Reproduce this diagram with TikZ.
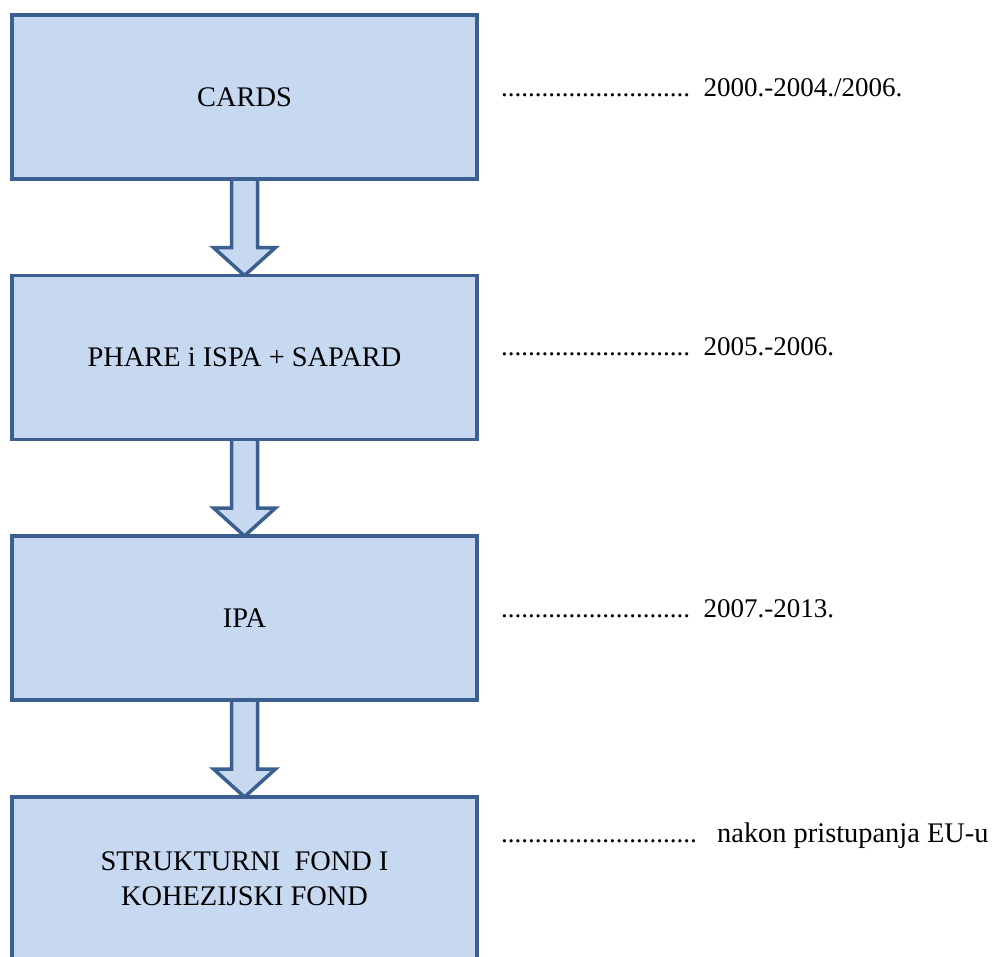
\documentclass[tikz,border=0pt]{standalone}
\usepackage{fontspec}
\setmainfont{Liberation Serif}
\usetikzlibrary{calc}
\definecolor{boxfill}{HTML}{C6D9F1}
\definecolor{boxline}{HTML}{3B5F8E}
\begin{document}
\begin{tikzpicture}[x=1pt,y=-1pt,
  fundbox/.style={draw=boxline, fill=boxfill, line width=3.5pt, rectangle,
    minimum width=465pt, minimum height=164pt, inner sep=0pt,
    align=center, font=\fontsize{28.4}{35}\selectfont},
  blockarrow/.style={draw=boxline, fill=boxfill, line width=3.5pt, line join=miter},
  datetext/.style={anchor=base west, inner sep=0pt, font=\fontsize{27}{32}\selectfont}
]
\clip (0,0) rectangle (1000,956);
\fill[white] (0,0) rectangle (1000,956);
% box positions (centres)
\coordinate (c1) at (244.5,97);
\coordinate (c2) at (244.5,357.5);
\coordinate (c3) at (244.5,618);
\coordinate (c4) at (244.5,879);
% arrows (drawn first, boxes cover their ends)
\newcommand{\fundarrow}[2]{%
  \draw[blockarrow] ($(#1)+(-13,82)$) -- ($(#2)+(-13,-110)$) -- ($(#2)+(-31,-110)$)
    -- ($(#2)+(0,-82)$) -- ($(#2)+(31,-110)$) -- ($(#2)+(13,-110)$) -- ($(#1)+(13,82)$);}
\fundarrow{c1}{c2}
\fundarrow{c2}{c3}
\fundarrow{c3}{c4}
\node[fundbox] (b1) at (c1) {CARDS};
\node[fundbox] (b2) at (c2) {PHARE i ISPA + SAPARD};
\node[fundbox] (b3) at (c3) {IPA};
\node[fundbox] (b4) at (c4) {STRUKTURNI\ \ FOND I\\KOHEZIJSKI FOND};
% right-hand texts
\node[datetext] (t1) at (501,96) {............................\ \ 2000.-2004./2006.};
\node[datetext] (t2) at (501,355) {............................\ \ 2005.-2006.};
\node[datetext] (t3) at (501,617) {............................\ \ 2007.-2013.};
\node[datetext] (t4) at (501,842) {.............................\ \ \ {\fontsize{28.4}{34}\selectfont nakon pristupanja EU-u}};
\end{tikzpicture}
\end{document}
